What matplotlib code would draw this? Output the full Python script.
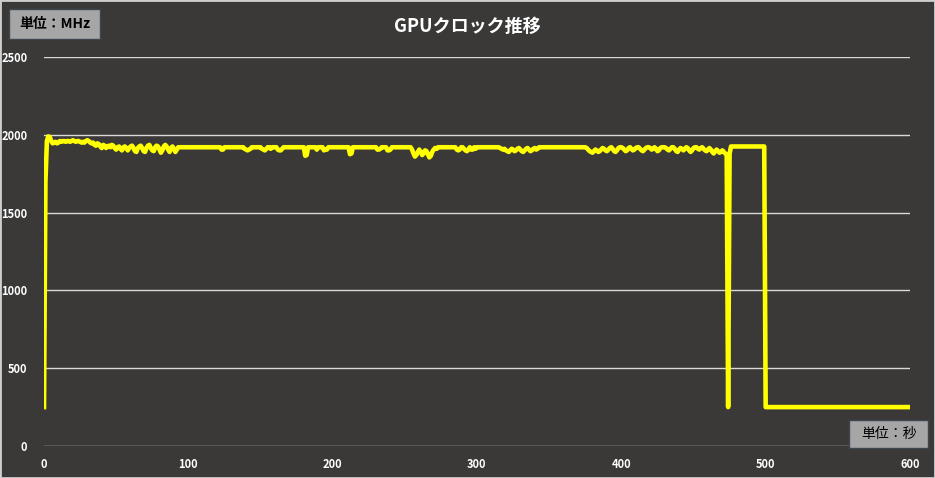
import numpy as np
import matplotlib.pyplot as plt

plt.rcParams['font.family'] = ['Noto Sans CJK JP', 'DejaVu Sans']

# GPU clock (MHz), one sample per second, 0..600 s
clock = [
    250, 1700, 1960, 1990, 1985, 1960, 1945, 1950, 1955, 1945,
    1950, 1960, 1955, 1960, 1960, 1955, 1960, 1960, 1955, 1960,
    1965, 1960, 1955, 1960, 1960, 1955, 1950, 1955, 1950, 1960,
    1965, 1960, 1950, 1945, 1950, 1935, 1930, 1945, 1940, 1925,
    1915, 1935, 1930, 1915, 1925, 1930, 1920, 1935, 1930, 1915,
    1905, 1920, 1925, 1910, 1900, 1920, 1925, 1915, 1900, 1915,
    1925, 1930, 1915, 1895, 1890, 1915, 1925, 1930, 1915, 1895,
    1890, 1915, 1930, 1935, 1915, 1900, 1895, 1920, 1930, 1925,
    1905, 1885, 1900, 1925, 1935, 1925, 1905, 1890, 1915, 1925,
    1910, 1890, 1905, 1920, 1920, 1920, 1920, 1920, 1920, 1920,
    # 100
    1920, 1920, 1920, 1920, 1920, 1920, 1920, 1920, 1920, 1920,
    1920, 1920, 1920, 1920, 1920, 1920, 1920, 1920, 1920, 1920,
    1920, 1920, 1920, 1905, 1905, 1920, 1920, 1920, 1920, 1920,
    1920, 1920, 1920, 1920, 1920, 1920, 1920, 1920, 1920, 1910,
    1905, 1900, 1905, 1910, 1920, 1920, 1920, 1920, 1920, 1920,
    1920, 1910, 1905, 1900, 1910, 1920, 1920, 1910, 1920, 1920,
    1920, 1920, 1905, 1900, 1900, 1910, 1920, 1920, 1920, 1920,
    1920, 1920, 1920, 1920, 1920, 1920, 1920, 1920, 1920, 1920,
    1920, 1865, 1870, 1920, 1920, 1920, 1920, 1920, 1920, 1905,
    1920, 1920, 1920, 1920, 1900, 1905, 1905, 1920, 1920, 1920,
    # 200
    1920, 1920, 1920, 1920, 1920, 1920, 1920, 1920, 1920, 1920,
    1920, 1920, 1875, 1880, 1920, 1920, 1920, 1920, 1920, 1920,
    1920, 1920, 1920, 1920, 1920, 1920, 1920, 1920, 1920, 1920,
    1920, 1905, 1905, 1910, 1920, 1920, 1920, 1920, 1900, 1900,
    1905, 1920, 1920, 1920, 1920, 1920, 1920, 1920, 1920, 1920,
    1920, 1920, 1920, 1920, 1920, 1905, 1880, 1860, 1870, 1890,
    1905, 1890, 1870, 1880, 1900, 1895, 1875, 1855, 1865, 1890,
    1905, 1915, 1910, 1920, 1920, 1920, 1920, 1920, 1920, 1920,
    1920, 1920, 1920, 1920, 1920, 1920, 1905, 1900, 1905, 1920,
    1920, 1910, 1900, 1895, 1905, 1920, 1905, 1905, 1920, 1910,
    # 300
    1920, 1920, 1920, 1920, 1920, 1920, 1920, 1920, 1920, 1920,
    1920, 1920, 1920, 1920, 1920, 1920, 1915, 1910, 1905, 1910,
    1900, 1895, 1890, 1900, 1910, 1905, 1895, 1900, 1910, 1915,
    1905, 1895, 1890, 1900, 1910, 1915, 1905, 1895, 1900, 1910,
    1915, 1905, 1910, 1920, 1920, 1920, 1920, 1920, 1920, 1920,
    1920, 1920, 1920, 1920, 1920, 1920, 1920, 1920, 1920, 1920,
    1920, 1920, 1920, 1920, 1920, 1920, 1920, 1920, 1920, 1920,
    1920, 1920, 1920, 1920, 1920, 1920, 1915, 1905, 1895, 1890,
    1885, 1895, 1905, 1900, 1890, 1895, 1905, 1915, 1910, 1900,
    1895, 1905, 1915, 1920, 1910, 1895, 1890, 1900, 1915, 1920,
    # 400
    1920, 1915, 1905, 1895, 1900, 1915, 1920, 1910, 1900, 1905,
    1915, 1920, 1920, 1910, 1900, 1895, 1905, 1915, 1920, 1920,
    1915, 1905, 1910, 1920, 1910, 1895, 1900, 1915, 1920, 1920,
    1920, 1915, 1905, 1900, 1910, 1920, 1920, 1910, 1895, 1890,
    1905, 1915, 1910, 1900, 1910, 1920, 1915, 1900, 1890, 1900,
    1915, 1920, 1920, 1910, 1905, 1915, 1920, 1910, 1900, 1895,
    1905, 1915, 1905, 1890, 1880, 1895, 1905, 1895, 1885, 1890,
    1900, 1890, 1880, 1870, 250, 1880, 1925, 1925, 1925, 1925,
    1925, 1925, 1925, 1925, 1925, 1925, 1925, 1925, 1925, 1925,
    1925, 1925, 1925, 1925, 1925, 1925, 1925, 1925, 1925, 1925,
    # 500
    250, 250, 250, 250, 250, 250, 250, 250, 250, 250,
    250, 250, 250, 250, 250, 250, 250, 250, 250, 250,
    250, 250, 250, 250, 250, 250, 250, 250, 250, 250,
    250, 250, 250, 250, 250, 250, 250, 250, 250, 250,
    250, 250, 250, 250, 250, 250, 250, 250, 250, 250,
    250, 250, 250, 250, 250, 250, 250, 250, 250, 250,
    250, 250, 250, 250, 250, 250, 250, 250, 250, 250,
    250, 250, 250, 250, 250, 250, 250, 250, 250, 250,
    250, 250, 250, 250, 250, 250, 250, 250, 250, 250,
    250, 250, 250, 250, 250, 250, 250, 250, 250, 250,
    250,
]
seconds = np.arange(len(clock))

x_ticks = [0, 100, 200, 300, 400, 500, 600]
y_ticks = [0, 500, 1000, 1500, 2000, 2500]

bg = '#3a3938'
W, H = 935, 478

fig = plt.figure(figsize=(W / 100, H / 100), dpi=100, facecolor=bg)
ax = fig.add_axes([44 / W, 32 / H, 866 / W, 389 / H])
ax.set_facecolor(bg)

ax.plot(seconds, clock, color='#ffff00', lw=3.3, zorder=3)

ax.set_xlim(0, 600)
ax.set_ylim(0, 2500)
ax.set_xticks(x_ticks)
ax.set_yticks(y_ticks)
ax.grid(axis='y', color='#d9d9d9', lw=1.0)
ax.grid(axis='x', visible=False)
for s in ax.spines.values():
    s.set_visible(False)
ax.tick_params(length=0, colors='white', labelsize=8)
ax.tick_params(axis='y', pad=12)
ax.tick_params(axis='x', pad=9)
for lab in ax.get_xticklabels() + ax.get_yticklabels():
    lab.set_fontweight('bold')

fig.text(0.5, 1 - 26 / H, 'GPUクロック推移', color='white', fontsize=13,
         fontweight='bold', ha='center', va='center')


def unit_box(x0, y0, x1, y1, text, weight):
    # pixel coords measured from the top-left corner
    r = plt.Rectangle((x0 / W, 1 - y1 / H), (x1 - x0) / W, (y1 - y0) / H,
                      transform=fig.transFigure, facecolor='#a6a6a6',
                      edgecolor='#3f4650', lw=1, zorder=5)
    fig.patches.append(r)
    fig.text((x0 + x1) / 2 / W, 1 - (y0 + y1) / 2 / H, text, color='black',
             fontsize=10, fontweight=weight, ha='center', va='center', zorder=6)


unit_box(9, 9, 100, 39, '単位：MHz', 'bold')
unit_box(849, 420, 928, 448, '単位：秒', 'normal')

# outer border
fig.patches.append(plt.Rectangle((0, 0), 1, 1, transform=fig.transFigure,
                                 fill=False, edgecolor='#cfcfcf', lw=2))

fig.savefig('out.png', dpi=100, facecolor=bg)
